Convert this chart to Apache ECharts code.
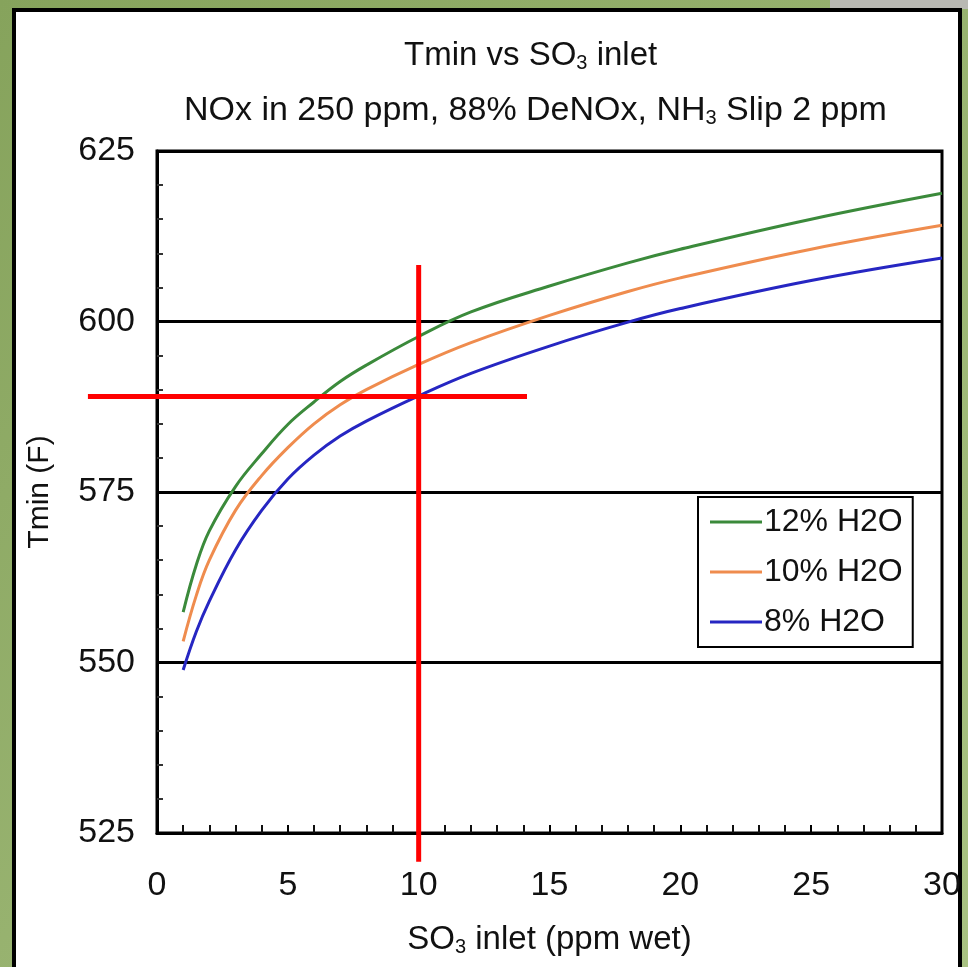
<!DOCTYPE html>
<html>
<head>
<meta charset="utf-8">
<script src="https://cdn.jsdelivr.net/npm/echarts@6/dist/echarts.min.js"></script>
<style>html,body{margin:0;padding:0;background:#fff;}#c{width:968px;height:967px;}</style>
</head>
<body>
<div id="c"></div>
<script>
// ---- data ----
const so3Inlet = [1, 1.5, 2, 3, 4, 5, 6, 7, 8, 10, 12, 15, 18, 20, 25, 30];
const h2o12 = [557.4, 564.3, 569.3, 575.8, 580.6, 584.9, 588.2, 591.2, 593.6, 597.8, 601.4, 605.2, 608.6, 610.6, 615.0, 618.8];
const h2o10 = [553.1, 559.8, 565.0, 572.3, 577.4, 581.5, 585.0, 587.8, 590.0, 593.7, 596.9, 600.9, 604.4, 606.4, 610.6, 614.1];
const h2o8  = [548.9, 554.5, 559.0, 566.5, 572.3, 576.9, 580.4, 583.2, 585.4, 589.1, 592.4, 596.4, 599.9, 601.9, 606.0, 609.3];
const seriesNames = ['12% H2O', '10% H2O', '8% H2O'];
// red cross-hair (data space)
const crossVertical = [[10, 608.3], [10, 520.8]];
const crossHorizontal = [[-2.64, 589.0], [14.14, 589.0]];

const FONT = 'Liberation Sans, Arial, sans-serif';
const pair = (xs, ys) => xs.map((x, i) => [x, ys[i]]);

const chart = echarts.init(document.getElementById('c'), null, {renderer: 'canvas'});
const sub = {fontSize: 20, fontFamily: FONT, color: '#111', padding: [14, 0, 0, 0]};

const crossSegments = [crossVertical, crossHorizontal];

chart.setOption({
  animation: false,
  backgroundColor: {
    type: 'linear', x: 0, y: 0, x2: 1, y2: 1,
    colorStops: [{offset: 0, color: '#86a35c'}, {offset: 1, color: '#a9c283'}]
  },
  graphic: [
    {type: 'rect', z: -10, shape: {x: 830, y: 0, width: 138, height: 9}, style: {fill: '#b9b9b3'}},
    {type: 'rect', z: -5, shape: {x: 14, y: 10, width: 946, height: 960}, style: {fill: '#ffffff', stroke: '#000', lineWidth: 4}}
  ],
  title: [
    {text: 'Tmin vs SO{s|3} inlet', left: 399, top: 34,
     textStyle: {fontFamily: FONT, fontSize: 33, fontWeight: 'normal', color: '#111', rich: {s: sub}}},
    {text: 'NOx in 250 ppm, 88% DeNOx, NH{s|3} Slip 2 ppm', left: 179, top: 89,
     textStyle: {fontFamily: FONT, fontSize: 34, fontWeight: 'normal', color: '#111', rich: {s: sub}}}
  ],
  legend: {
    data: seriesNames,
    orient: 'vertical',
    left: 698, top: 497,
    padding: [8, 10, 8, 12],
    backgroundColor: '#fff',
    borderColor: '#000', borderWidth: 2, borderRadius: 0,
    icon: 'rect',
    itemWidth: 52, itemHeight: 3, itemGap: 16,
    textStyle: {fontFamily: FONT, fontSize: 32, color: '#111', lineHeight: 34, padding: [0, 0, 0, -3]}
  },
  grid: {left: 157, top: 151, right: 26, bottom: 134, show: true, borderColor: '#000', borderWidth: 3, backgroundColor: 'transparent'},
  xAxis: {
    type: 'value', min: 0, max: 30, interval: 5,
    name: 'SO{s|3} inlet (ppm wet)', nameLocation: 'middle', nameGap: 90,
    nameTextStyle: {fontFamily: FONT, fontSize: 33, color: '#111', rich: {s: sub}},
    axisLine: {show: true, lineStyle: {color: '#000', width: 3}},
    axisTick: {show: true, inside: true, length: 8, lineStyle: {color: '#000', width: 2}},
    minorTick: {show: true, splitNumber: 5, length: 8, lineStyle: {color: '#111', width: 2}},
    axisLabel: {fontFamily: FONT, fontSize: 34, color: '#111', margin: 36},
    splitLine: {show: false}
  },
  yAxis: {
    type: 'value', min: 525, max: 625, interval: 25,
    name: 'Tmin (F)', nameLocation: 'middle', nameGap: 102,
    nameTextStyle: {fontFamily: FONT, fontSize: 30, color: '#111'},
    axisLine: {show: true, lineStyle: {color: '#000', width: 3}},
    axisTick: {show: true, inside: true, length: 6, lineStyle: {color: '#000', width: 2}},
    minorTick: {show: true, splitNumber: 5, length: 6, lineStyle: {color: '#333', width: 2}},
    axisLabel: {fontFamily: FONT, fontSize: 34, color: '#111', margin: 22},
    splitLine: {show: true, lineStyle: {color: '#000', width: 3}}
  },
  series: [
    {name: seriesNames[0], type: 'line', data: pair(so3Inlet, h2o12), smooth: 0.4, symbol: 'none',
     lineStyle: {color: '#3b8a3b', width: 3}, itemStyle: {color: '#3b8a3b'}, z: 3},
    {name: seriesNames[1], type: 'line', data: pair(so3Inlet, h2o10), smooth: 0.4, symbol: 'none',
     lineStyle: {color: '#ef8c4e', width: 3}, itemStyle: {color: '#ef8c4e'}, z: 3},
    {name: seriesNames[2], type: 'line', data: pair(so3Inlet, h2o8), smooth: 0.4, symbol: 'none',
     lineStyle: {color: '#2626c2', width: 3}, itemStyle: {color: '#2626c2'}, z: 3},
    {name: 'cross', type: 'custom', clip: false, silent: true, z: 6,
     data: crossSegments.map((s, i) => [i]),
     renderItem: function (params, api) {
       const seg = crossSegments[api.value(0)];
       const a = api.coord(seg[0]);
       const b = api.coord(seg[1]);
       return {type: 'line', shape: {x1: a[0], y1: a[1], x2: b[0], y2: b[1]},
               style: {stroke: '#ff0000', lineWidth: 5}};
     }}
  ]
});
</script>
</body>
</html>
